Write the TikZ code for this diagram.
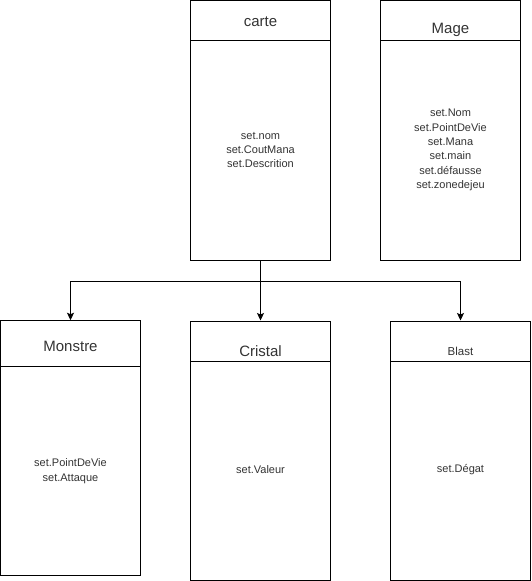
\documentclass[tikz,border=0pt]{standalone}
\usepackage{fontspec}
\setmainfont{Liberation Sans}
\usetikzlibrary{arrows.meta}
\begin{document}
\begin{tikzpicture}[x=1pt,y=-1pt,
  classbox/.style={draw=black, line width=1pt, inner sep=0pt, minimum width=140pt},
  divider/.style={draw=black, line width=1pt},
  title/.style={inner sep=0pt, text=black!80, font=\fontsize{15}{17}\selectfont},
  smalltitle/.style={inner sep=0pt, text=black!80, font=\fontsize{11.5}{14}\selectfont},
  members/.style={inner sep=0pt, align=center, text=black!80, font=\fontsize{11}{14.3}\selectfont},
  link/.style={draw=black, line width=1pt},
  linkarrow/.style={link, -{Stealth[length=7.5pt, width=7pt, inset=1.5pt]}}]
\useasboundingbox (0,0) rectangle (531,581);

% upper row
\node[classbox, minimum height=259.5pt] (carte) at (260.5,130.25) {};
\node[classbox, minimum height=259.5pt] (mage)  at (450.5,130.25) {};
% lower row
\node[classbox, minimum height=254.5pt] (monstre) at (70.5,448) {};
\node[classbox, minimum height=259pt]   (cristal) at (260.5,450.5) {};
\node[classbox, minimum height=259pt]   (blast)   at (460.5,450.5) {};

% header separators
\draw[divider] (carte.west |- 0,40.5) -- (carte.east |- 0,40.5);
\draw[divider] (mage.west |- 0,40.5) -- (mage.east |- 0,40.5);
\draw[divider] (monstre.west |- 0,366) -- (monstre.east |- 0,366);
\draw[divider] (cristal.west |- 0,361) -- (cristal.east |- 0,361);
\draw[divider] (blast.west |- 0,361) -- (blast.east |- 0,361);

% class names
\node[title] (carteT) at (260.5,22) {carte};
\node[title] (mageT) at (450.5,30) {Mage};
\node[title] (monstreT) at (70.5,346.5) {Monstre};
\node[title] (cristalT) at (260.5,351) {Cristal};
\node[smalltitle] (blastT) at (460.5,351) {Blast};

% members
\node[members] (carteM) at (260.5,150) {set.nom\\set.CoutMana\\set.Descrition};
\node[members] (mageM) at (450.5,150) {set.Nom\\set.PointDeVie\\set.Mana\\set.main\\set.défausse\\set.zonedejeu};
\node[members] (monstreM) at (70.5,471) {set.PointDeVie\\set.Attaque};
\node[members] (cristalM) at (260.5,470) {set.Valeur};
\node[members] (blastM) at (460.5,470) {set.Dégat};

% inheritance links
\coordinate (split) at (260.5,281);
\draw[link] (carte.south) -- (split);
\draw[linkarrow] (split) -| (monstre.north);
\draw[linkarrow] (split) -- (cristal.north);
\draw[linkarrow] (split) -| (blast.north);
\end{tikzpicture}
\end{document}
